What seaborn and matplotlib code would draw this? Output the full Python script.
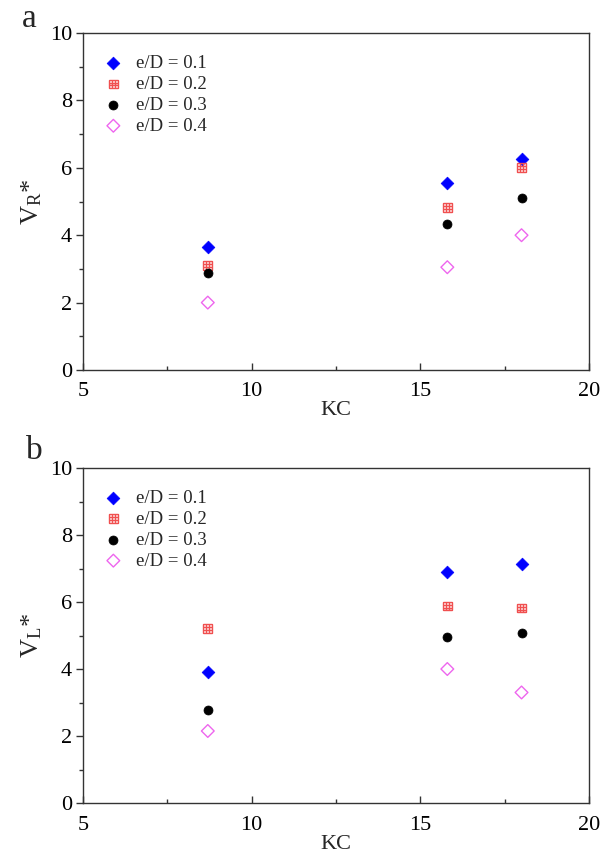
import numpy as np
import pandas as pd
import matplotlib
matplotlib.use("Agg")
import matplotlib.pyplot as plt
from matplotlib.path import Path
from matplotlib.ticker import MultipleLocator
import seaborn as sns

kc = [8.7, 15.8, 18.0]
labels = ["e/D = 0.1", "e/D = 0.2", "e/D = 0.3", "e/D = 0.4"]

# panel a : V_R*
vr_01 = [3.65, 5.55, 6.25]
vr_02 = [3.10, 4.82, 6.00]
vr_03 = [2.87, 4.33, 5.10]
vr_04 = [2.00, 3.05, 4.00]

# panel b : V_L*
vl_01 = [3.90, 6.90, 7.13]
vl_02 = [5.20, 5.88, 5.82]
vl_03 = [2.78, 4.97, 5.08]
vl_04 = [2.15, 4.00, 3.30]

sns.set_style("ticks")
plt.rcParams["font.family"] = ["Liberation Serif", "DejaVu Serif"]
plt.rcParams["mathtext.fontset"] = "custom"
plt.rcParams["mathtext.rm"] = "Liberation Serif"
plt.rcParams["mathtext.it"] = "Liberation Serif:italic"

# open square with a 3x3 grid inside
v, c = [], []
for a, b in [((-1, -1), (1, -1)), ((1, -1), (1, 1)), ((1, 1), (-1, 1)), ((-1, 1), (-1, -1)),
             ((-1 / 3, -1), (-1 / 3, 1)), ((1 / 3, -1), (1 / 3, 1)),
             ((-1, -1 / 3), (1, -1 / 3)), ((-1, 1 / 3), (1, 1 / 3))]:
    v += [a, b]
    c += [Path.MOVETO, Path.LINETO]
grid_sq = Path(v, c)

styles = [
    dict(marker="D", color="#0000ff", fill=True, s=42),
    dict(marker=grid_sq, color="#f05050", fill=False, s=40),
    dict(marker="o", color="black", fill=True, s=42),
    dict(marker="D", color="#ee66ee", fill=False, s=42),
]

fig = plt.figure(figsize=(6.11, 8.58), dpi=100)
ax_a = fig.add_axes([0.1358, 0.5688, 0.8282, 0.3927])
ax_b = fig.add_axes([0.1358, 0.0641, 0.8282, 0.3904])


def draw(ax, series, ylab):
    for vals, lab, st in zip(series, labels, styles):
        df = pd.DataFrame({"KC": kc, "V": vals})
        if st["fill"]:
            sns.scatterplot(data=df, x="KC", y="V", ax=ax, marker=st["marker"],
                            color=st["color"], edgecolor=st["color"], s=st["s"],
                            linewidth=0.5, label=lab)
        else:
            sns.scatterplot(data=df, x="KC", y="V", ax=ax, marker=st["marker"],
                            facecolors="none", edgecolor=st["color"], s=st["s"],
                            linewidth=1.0, label=lab)
    ax.set_xlim(5, 20)
    ax.set_ylim(0, 10)
    ax.xaxis.set_major_locator(MultipleLocator(5))
    ax.xaxis.set_minor_locator(MultipleLocator(2.5))
    ax.yaxis.set_major_locator(MultipleLocator(2))
    ax.yaxis.set_minor_locator(MultipleLocator(1))
    ax.tick_params(which="both", labelsize=16, colors="#333333", labelcolor="black")
    ax.tick_params(axis="y", which="major", direction="out", length=5, width=1, pad=3)
    ax.tick_params(axis="y", which="minor", direction="out", length=3, width=1)
    ax.tick_params(axis="x", which="major", direction="in", length=5, width=1, pad=9)
    ax.tick_params(axis="x", which="minor", direction="in", length=3, width=1)
    ax.tick_params(top=False, right=False)
    for sp in ax.spines.values():
        sp.set_color("#333333")
        sp.set_linewidth(1.0)
    ax.set_xlabel("KC", fontsize=16, labelpad=0)
    ax.set_ylabel(ylab, fontsize=19, labelpad=4)
    ax.legend(loc="upper left", frameon=False, fontsize=13.5, handlelength=1.0,
              handletextpad=0.7, borderaxespad=0, borderpad=0, labelspacing=0.2,
              bbox_to_anchor=(0.0415, 0.935))


draw(ax_a, [vr_01, vr_02, vr_03, vr_04], r"V$_\mathregular{R}$*")
draw(ax_b, [vl_01, vl_02, vl_03, vl_04], r"V$_\mathregular{L}$*")

fig.text(22 / 611, 1 - 27 / 858, "a", fontsize=24, ha="left", va="baseline")
fig.text(26 / 611, 1 - 459 / 858, "b", fontsize=24, ha="left", va="baseline")

fig.savefig("out.png", dpi=100)
